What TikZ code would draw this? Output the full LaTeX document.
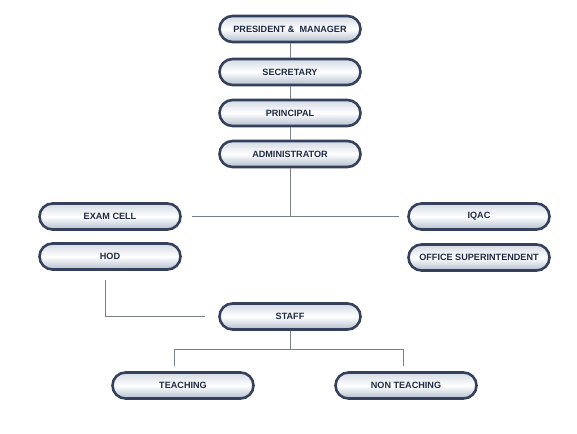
\documentclass[tikz,border=0pt]{standalone}
\usepackage{fontspec}
\setmainfont{Liberation Sans}
\usepackage{tikz}

\definecolor{boxline}{HTML}{34405C}
\definecolor{boxtext}{HTML}{1E2A44}
\definecolor{boxtop}{HTML}{D3DAE4}
\definecolor{boxbot}{HTML}{B3BFCE}
\definecolor{connline}{HTML}{7A7F88}

\begin{document}
\begin{tikzpicture}[x=1pt,y=-1pt,
    post/.style={rounded corners=13pt, draw=boxline, line width=2.6pt,
        top color=boxtop, bottom color=boxbot, middle color=white,
        minimum width=141pt, minimum height=26pt, inner sep=0pt,
        text=boxtext, font=\bfseries\fontsize{9.1}{11}\selectfont},
    conn/.style={draw=connline, line width=0.7pt}]
    \useasboundingbox[fill=white] (0,0) rectangle (577,433);

    % Draw the top chain
    \node[post] (pres) at (290,29) {PRESIDENT \&\ \ MANAGER};
    \node[post] (sec) at (290,72) {SECRETARY};
    \node[post] (prin) at (290,113) {PRINCIPAL};
    \node[post] (admin) at (290,154) {ADMINISTRATOR};

    % Add the side offices
    \node[post] (exam) at (110,216.5) {EXAM CELL};
    \node[post] (hod) at (110,256.5) {HOD};
    \node[post] (iqac) at (479,216.5) {IQAC};
    \node[post] (office) at (479,257.5) {OFFICE SUPERINTENDENT};

    % Add staff and its two groups
    \node[post] (staff) at (290,316.5) {STAFF};
    \node[post] (teach) at (183,385.5) {TEACHING};
    \node[post] (nonteach) at (406,385.5) {NON TEACHING};

    % Connect the chain
    \draw[conn] (pres) -- (sec);
    \draw[conn] (sec) -- (prin);
    \draw[conn] (prin) -- (admin);

    % Branch under the administrator
    \coordinate (brL) at ([xshift=10pt]exam.east);
    \coordinate (brR) at ([xshift=-8pt]iqac.west);
    \draw[conn] (brL) -- (brR);
    \draw[conn] (admin.south) -- (admin.south |- brL);

    % HOD to staff (open end)
    \coordinate (hodTop) at ([xshift=-5pt,yshift=-9pt]hod.south);
    \coordinate (hodEnd) at ([xshift=-13pt]staff.west);
    \draw[conn] (hodTop) |- (hodEnd);

    % Staff branch
    \coordinate (stJoin) at ([yshift=-19pt]staff.south);
    \draw[conn] (staff.south) -- (stJoin);
    \draw[conn] ([xshift=-9pt,yshift=5pt]teach.north) |- (stJoin)
        -| ([xshift=-3pt,yshift=5pt]nonteach.north);
\end{tikzpicture}
\end{document}
